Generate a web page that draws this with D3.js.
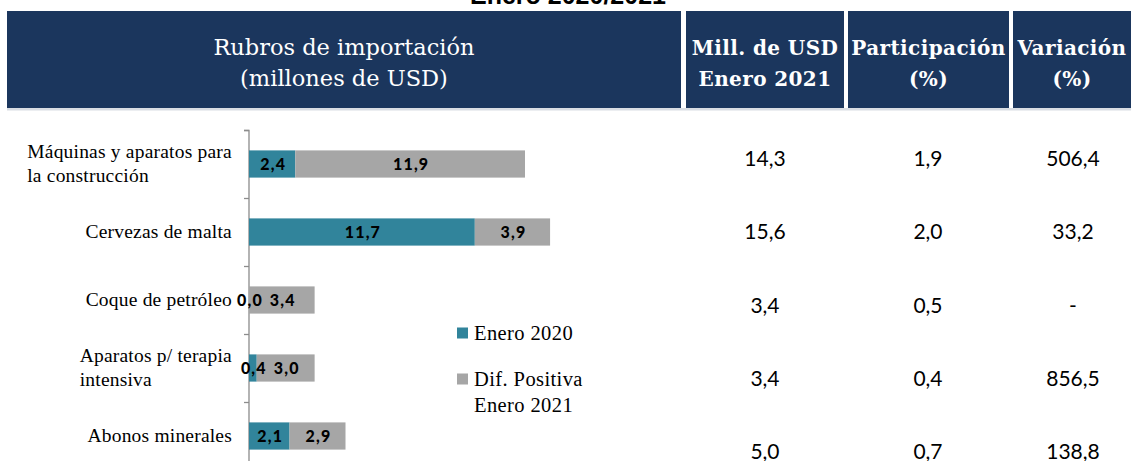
<!DOCTYPE html>
<html><head><meta charset="utf-8">
<script src="https://cdn.jsdelivr.net/npm/d3@7/dist/d3.min.js"></script>
<style>
html,body{margin:0;padding:0;background:#fff;overflow:hidden;}
svg{display:block;}
</style></head>
<body>
<svg id="chart" width="1132" height="461"></svg>
<script>
// ---- data ----
const title = "Enero 2020/2021";
const categories = [
  ["Máquinas y aparatos para", "la construcción"],
  ["Cervezas de malta"],
  ["Coque de petróleo"],
  ["Aparatos p/ terapia", "intensiva"],
  ["Abonos minerales"]
];
const enero2020 = [2.4, 11.7, 0.0, 0.4, 2.1];
const difPositiva = [11.9, 3.9, 3.4, 3.0, 2.9];
const mill2021 = ["14,3", "15,6", "3,4", "3,4", "5,0"];
const participacion = ["1,9", "2,0", "0,5", "0,4", "0,7"];
const variacion = ["506,4", "33,2", "-", "856,5", "138,8"];
const headers = [
  ["Rubros de importación", "(millones de USD)"],
  ["Mill. de USD", "Enero 2021"],
  ["Participación", "(%)"],
  ["Variación", "(%)"]
];
const seriesNames = [["Enero 2020"], ["Dif. Positiva", "Enero 2021"]];

// ---- styles ----
const navy = "#1b365d";
const teal = "#31849b";
const gray = "#a6a6a6";
const serif = "'Liberation Serif', serif";
const sans = "Lato, 'Open Sans', sans-serif";

const svg = d3.select("#chart");
const fmt = v => d3.format(".1f")(v).replace(".", ",");

// title (cut off at top)
svg.append("text").attr("x", 568).attr("y", 4).attr("text-anchor", "middle")
  .attr("font-family", "'Liberation Sans', Arial, sans-serif").attr("font-weight", "bold")
  .attr("font-size", 25).attr("fill", "#000").text(title);

// header boxes
const boxes = [[7, 681], [686, 844], [848, 1009], [1013, 1131]];
const hTop = 11, hBot = 108;
svg.append("rect").attr("x", 7).attr("y", hBot).attr("width", 1124).attr("height", 2.5).attr("fill", "#d9dde3");
boxes.forEach((b, i) => {
  svg.append("rect").attr("x", b[0]).attr("y", hTop).attr("width", b[1] - b[0]).attr("height", hBot - hTop).attr("fill", navy);
  const cx = (b[0] + b[1]) / 2;
  headers[i].forEach((line, j) => {
    svg.append("text").attr("x", cx).attr("y", 55 + j * 31).attr("text-anchor", "middle")
      .attr("font-family", "'DejaVu Serif', serif")
      .attr("font-weight", i === 0 ? "normal" : "bold")
      .attr("font-size", i === 0 ? 22.5 : 20)
      .attr("letter-spacing", i === 0 ? "0px" : "0.4px")
      .attr("fill", "#fff").text(line);
  });
});

// ---- chart ----
const x0 = 249;
const x = d3.scaleLinear().domain([0, 16]).range([x0, x0 + 16 * 19.3]);
const idx = d3.range(categories.length);
const y = d3.scaleBand().domain(idx).range([130, 470]).paddingInner(0.6).paddingOuter(0.3);
const yTick = d3.scaleLinear().domain([0, categories.length]).range([130, 470]);

const axisG = svg.append("g").attr("transform", `translate(${x0},0)`)
  .call(d3.axisLeft(yTick).tickValues(d3.range(0, categories.length + 1)).tickSize(5).tickFormat(""));
axisG.selectAll("path,line").attr("stroke", "#8c8c8c").attr("stroke-width", 1.3);
axisG.select(".domain").attr("d", `M-5,130.5H0V470`);

// bars
const stacked = idx.map(i => [
  { s: 0, a: 0, b: enero2020[i], v: enero2020[i], i },
  { s: 1, a: enero2020[i], b: enero2020[i] + difPositiva[i], v: difPositiva[i], i }
]).flat();

svg.append("g").selectAll("rect").data(stacked).join("rect")
  .attr("x", d => x(d.a)).attr("y", d => y(d.i))
  .attr("width", d => x(d.b) - x(d.a)).attr("height", y.bandwidth())
  .attr("fill", d => d.s === 0 ? teal : gray);

svg.append("g").selectAll("text").data(stacked).join("text")
  .attr("x", d => (x(d.a) + x(d.b)) / 2 + 1)
  .attr("y", d => y(d.i) + y.bandwidth() / 2 + 5.5)
  .attr("text-anchor", "middle")
  .attr("font-family", sans).attr("font-weight", "900").attr("font-size", 16)
  .attr("letter-spacing", "1.2px")
  .attr("fill", "#000").text(d => fmt(d.v));

// category labels: block right-aligned, lines left-aligned
const labG = svg.append("g");
idx.forEach(i => {
  const lines = categories[i];
  const cy = y(i) + y.bandwidth() / 2;
  const t = labG.append("text").attr("font-family", serif).attr("font-size", 19.5)
    .attr("letter-spacing", "0.2px").attr("fill", "#000");
  const lh = 24;
  lines.forEach((l, j) => {
    t.append("tspan").attr("x", 0).attr("y", cy + 6 + (j - (lines.length - 1) / 2) * lh).text(l);
  });
  const w = t.node().getBBox().width;
  t.attr("transform", `translate(${232 - w},0)`);
});

// legend
const legG = svg.append("g");
const legY = [333, 379];
seriesNames.forEach((name, k) => {
  legG.append("rect").attr("x", 457).attr("y", legY[k] - 5.5).attr("width", 11).attr("height", 11)
    .attr("fill", k === 0 ? teal : gray);
  name.forEach((l, j) => {
    legG.append("text").attr("x", 474).attr("y", legY[k] + 6.5 + j * 26)
      .attr("font-family", serif).attr("font-size", 20.5).attr("letter-spacing", "0.4px")
      .attr("fill", "#000").text(l);
  });
});

// table values
const ty = d3.scaleBand().domain(idx).range([122, 488]);
const colX = [765, 928, 1073];
[mill2021, participacion, variacion].forEach((col, c) => {
  svg.append("g").selectAll("text").data(col).join("text")
    .attr("x", colX[c]).attr("y", (d, i) => ty(i) + ty.bandwidth() / 2 + 7.5)
    .attr("text-anchor", "middle").attr("font-family", sans).attr("font-size", 21)
    .attr("fill", "#000").text(d => d);
});
</script>
</body></html>
